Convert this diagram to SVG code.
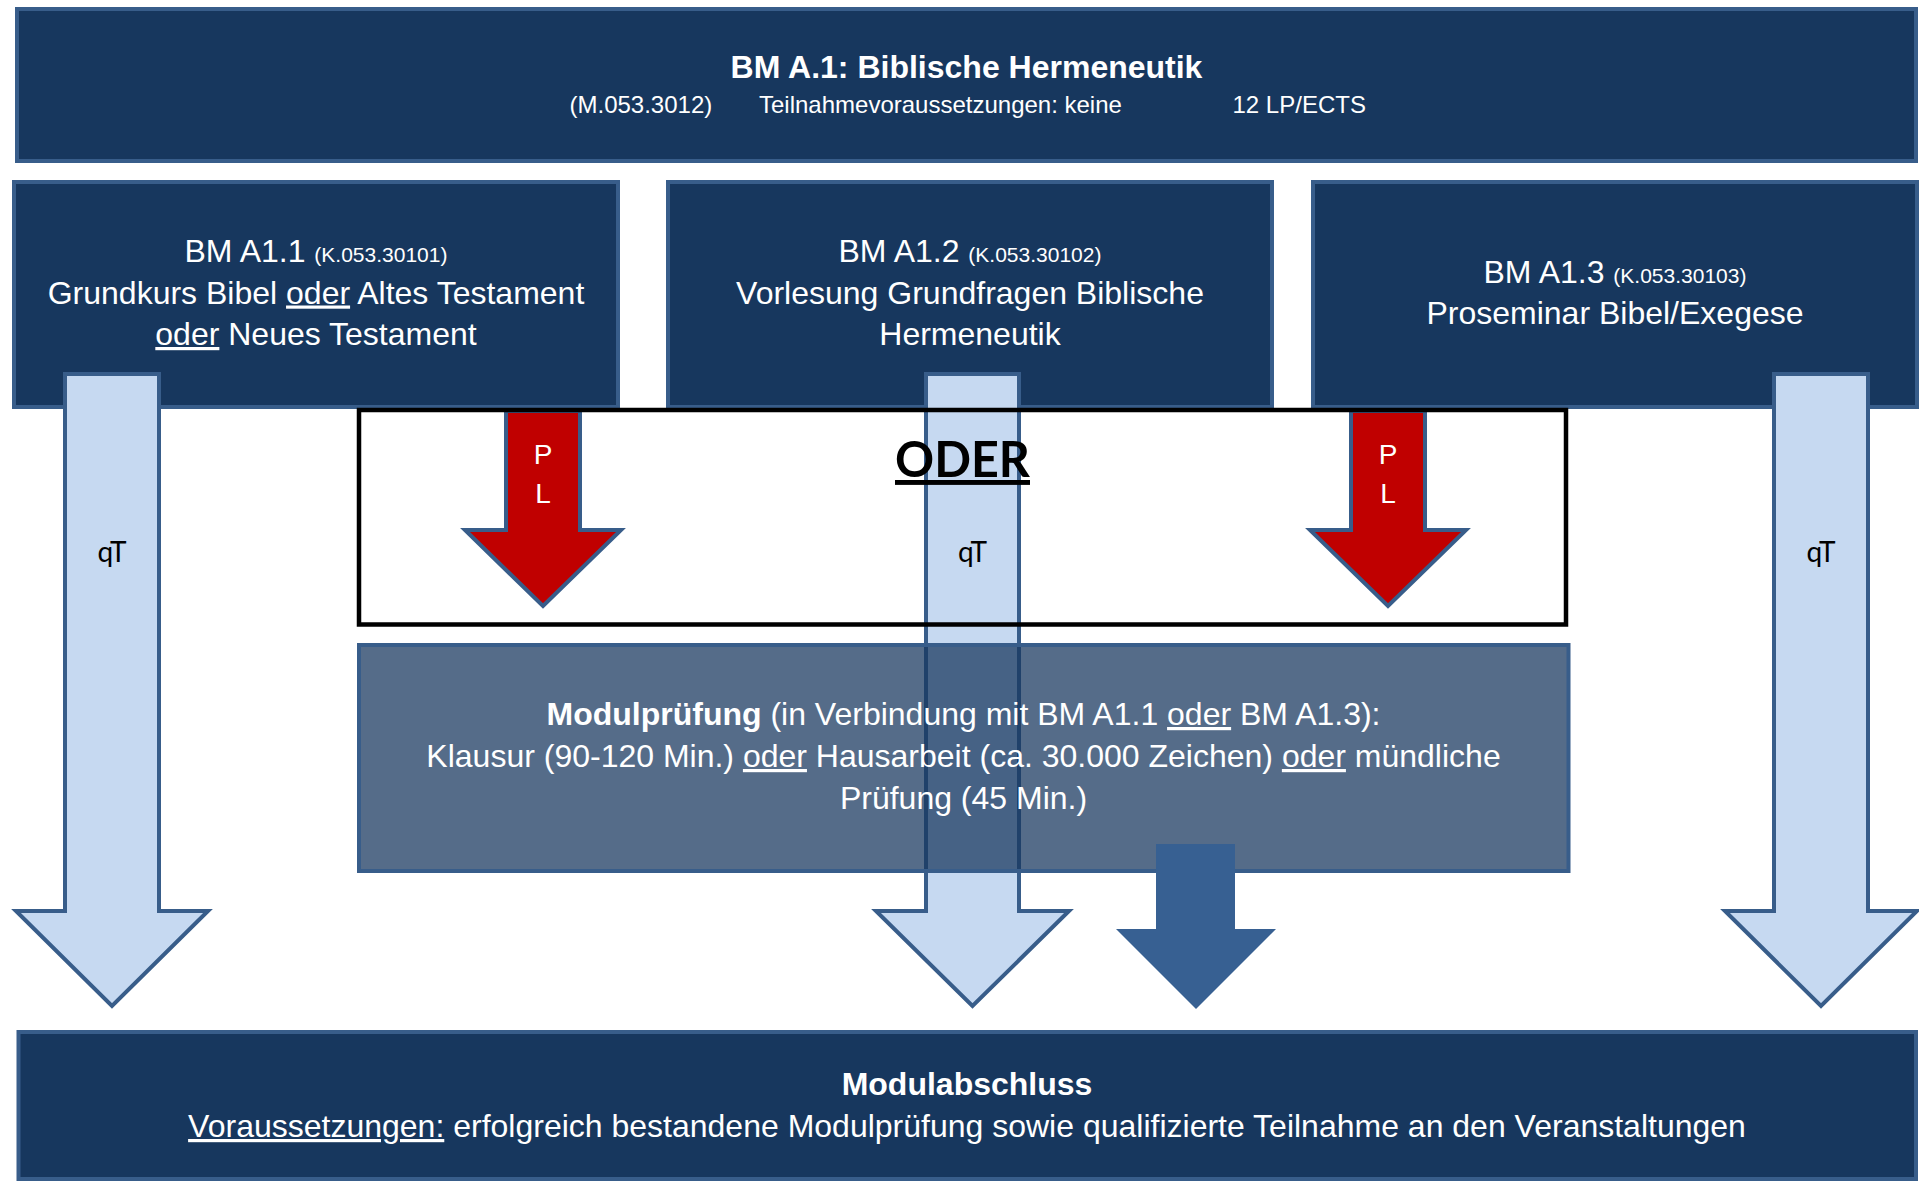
<svg xmlns="http://www.w3.org/2000/svg" width="1919" height="1181" viewBox="0 0 1919 1181">
<style>
.box{fill:#17375E;stroke:#385D8A;stroke-width:4}
.t{font-family:"Liberation Sans",Arial,sans-serif;fill:#ffffff}
.c{text-anchor:middle}
.lb{fill:#C6D9F1;stroke:#385D8A;stroke-width:4;stroke-linejoin:miter}
.red{fill:#C00000;stroke:#385D8A;stroke-width:4;stroke-linejoin:miter}
.lbl{font-family:Lato,"Liberation Sans",sans-serif;fill:#000000;font-size:28px;text-anchor:middle}
.pl{font-family:"Liberation Sans",Arial,sans-serif;fill:#ffffff;font-size:28px;text-anchor:middle}
.u{text-decoration:underline}
</style>
<rect width="1919" height="1181" fill="#ffffff"/>
<g id="module">
<rect class="box" x="17" y="9" width="1899" height="152"/>
<text class="t c" x="966.5" y="78" font-size="32" font-weight="bold">BM A.1: Biblische Hermeneutik</text>
<text class="t" x="569.5" y="113" font-size="24">(M.053.3012)</text>
<text class="t" x="759" y="113" font-size="24">Teilnahmevoraussetzungen: keine</text>
<text class="t" x="1232.5" y="113" font-size="24">12 LP/ECTS</text>
</g>
<g id="bm-a1-1">
<rect class="box" x="14" y="182" width="604" height="225"/>
<text class="t c" x="316" y="262" font-size="32">BM A1.1 <tspan font-size="21">(K.053.30101)</tspan></text>
<text class="t c" x="316" y="303.5" font-size="32">Grundkurs Bibel <tspan class="u">oder</tspan> Altes Testament</text>
<text class="t c" x="316" y="345" font-size="32"><tspan class="u">oder</tspan> Neues Testament</text>
</g>
<g id="bm-a1-2">
<rect class="box" x="668" y="182" width="604" height="225"/>
<text class="t c" x="970" y="262" font-size="32">BM A1.2 <tspan font-size="21">(K.053.30102)</tspan></text>
<text class="t c" x="970" y="303.5" font-size="32">Vorlesung Grundfragen Biblische</text>
<text class="t c" x="970" y="345" font-size="32">Hermeneutik</text>
</g>
<g id="bm-a1-3">
<rect class="box" x="1313" y="182" width="604" height="225"/>
<text class="t c" x="1615" y="283" font-size="32">BM A1.3 <tspan font-size="21">(K.053.30103)</tspan></text>
<text class="t c" x="1615" y="323.5" font-size="32">Proseminar Bibel/Exegese</text>
</g>
<g id="connectors">
<polygon class="lb" points="65,374 159,374 159,911 208,911 112,1006 16,911 65,911"/>
<polygon class="lb" points="926,374 1019,374 1019,911 1069,911 972.5,1006 876,911 926,911"/>
<polygon class="lb" points="1774,374 1868,374 1868,911 1917,911 1821,1006 1725,911 1774,911"/>
<polygon class="red" points="506,411 580,411 580,530 621,530 543,606 465,530 506,530"/>
<polygon class="red" points="1351,411 1425,411 1425,530 1466,530 1388,606 1310,530 1351,530"/>
<text class="lbl" x="112" y="562">qT</text>
<text class="lbl" x="972.5" y="562">qT</text>
<text class="lbl" x="1821" y="562">qT</text>
<text class="pl" x="543" y="464">P</text>
<text class="pl" x="543" y="503">L</text>
<text class="pl" x="1388" y="464">P</text>
<text class="pl" x="1388" y="503">L</text>
</g>
<g id="oder">
<rect x="359" y="410" width="1207" height="214.5" fill="none" stroke="#000000" stroke-width="4.5"/>
<text x="895" y="477" font-family="Lato,'Liberation Sans',sans-serif" font-weight="bold" font-size="49" textLength="135" lengthAdjust="spacingAndGlyphs" fill="#000000" text-decoration="underline">ODER</text>
</g>
<g id="modulpruefung">
<rect x="359" y="645" width="1209.5" height="226" fill="#17375E" fill-opacity="0.735" stroke="#385D8A" stroke-width="4"/>
<text class="t c" x="963.5" y="725" font-size="32"><tspan font-weight="bold">Modulprüfung</tspan> (in Verbindung mit BM A1.1 <tspan class="u">oder</tspan> BM A1.3):</text>
<text class="t c" x="963.5" y="767" font-size="32">Klausur (90-120 Min.) <tspan class="u">oder</tspan> Hausarbeit (ca. 30.000 Zeichen) <tspan class="u">oder</tspan> mündliche</text>
<text class="t c" x="963.5" y="809" font-size="32">Prüfung (45 Min.)</text>
</g>
<g id="connectors-exam">
<polygon fill="#376092" points="1156,844 1235,844 1235,929 1276,929 1196,1009 1116,929 1156,929"/>
</g>
<g id="modulabschluss">
<rect class="box" x="18.5" y="1032" width="1897.5" height="147"/>
<text class="t c" x="967" y="1095" font-size="32" font-weight="bold">Modulabschluss</text>
<text class="t c" x="967" y="1137" font-size="32"><tspan class="u">Voraussetzungen:</tspan> erfolgreich bestandene Modulprüfung sowie qualifizierte Teilnahme an den Veranstaltungen</text>
</g>
</svg>
